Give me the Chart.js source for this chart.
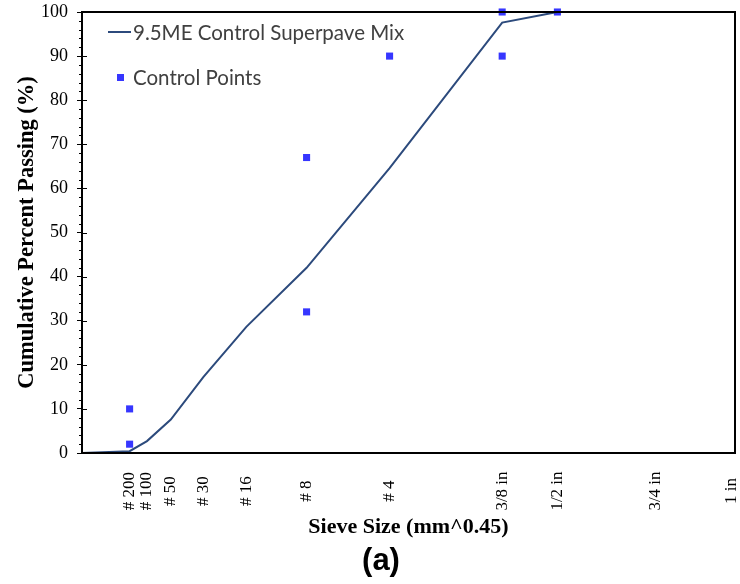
<!DOCTYPE html>
<html>
<head>
<meta charset="utf-8">
<script src="https://cdn.jsdelivr.net/npm/chart.js@4"></script>
<style>
  html, body { margin: 0; padding: 0; background: #fff; }
  #wrap { width: 740px; height: 584px; }
</style>
</head>
<body>
<div id="wrap"><canvas id="canva" width="740" height="584"></canvas></div>
<script>
// sieve sizes, x position = mm^0.45
var sieveLabels = ['# 200', '# 100', '# 50', '# 30', '# 16', '# 8', '# 4', '3/8 in', '1/2 in', '3/4 in', '1 in'];
var sieveX = [0.312, 0.426, 0.582, 0.795, 1.077, 1.472, 2.016, 2.754, 3.116, 3.762, 4.257];

// gradation curve
var mixX = [0, 0.312, 0.426, 0.582, 0.795, 1.077, 1.472, 2.016, 2.754, 3.116];
var mixY = [0, 0.4, 2.7, 7.6, 17.2, 28.6, 42, 64.6, 97.6, 100];

// control points
var ctrlX = [0.312, 0.312, 1.472, 1.472, 2.016, 2.754, 2.754, 3.116];
var ctrlY = [2, 10, 32, 67, 90, 90, 100, 100];

var yTicks = [0, 10, 20, 30, 40, 50, 60, 70, 80, 90, 100];

const ctx = document.getElementById('canva');

function pts(xs, ys) {
    var out = [];
    xs.forEach((x, i) => out.push({x: x, y: ys[i]}));
    return out;
}

// frame, minor ticks, sieve labels, legend, panel letter
var extras = {
    id: 'extras',
    afterDraw: function(chart) {
        var c = chart.ctx;
        var a = chart.chartArea;
        var ys = chart.scales.y;
        var xs = chart.scales.x;
        c.save();
        c.strokeStyle = '#000';
        c.lineWidth = 1;
        for (var v = 0; v <= 100; v += 2) {
            var py = Math.round(ys.getPixelForValue(v)) + 0.5;
            c.beginPath();
            if (v % 10 == 0) {
                c.moveTo(a.left, py); c.lineTo(a.left + 5, py);
            } else {
                c.moveTo(a.left - 3, py); c.lineTo(a.left, py);
            }
            c.stroke();
        }
        c.lineWidth = 2;
        c.strokeRect(a.left, a.top, a.right - a.left, a.bottom - a.top);

        // sieve labels, centred below the axis like the original
        c.fillStyle = '#000';
        c.font = '17px "Liberation Serif"';
        c.textAlign = 'center';
        c.textBaseline = 'middle';
        xs.ticks.forEach(function(t, i) {
            c.save();
            c.translate(xs.getPixelForValue(t.value), 491);
            c.rotate(-Math.PI / 2);
            c.fillText(sieveLabels[i], 0, 0);
            c.restore();
        });

        // legend
        var ds = chart.data.datasets;
        c.textAlign = 'left';
        c.font = '20.5px Lato';
        c.fillStyle = '#404040';
        c.strokeStyle = ds[0].borderColor;
        c.lineWidth = 2;
        c.beginPath();
        c.moveTo(108, 32); c.lineTo(131, 32);
        c.stroke();
        c.fillText(ds[0].label, 133, 33);
        c.fillStyle = ds[1].backgroundColor;
        c.fillRect(117, 74, 7, 7);
        c.fillStyle = '#404040';
        c.fillText(ds[1].label, 133, 78);

        c.fillStyle = '#000';
        c.textAlign = 'center';
        c.font = 'bold 31px "Liberation Sans"';
        c.fillText('(a)', 381, 561);
        c.restore();
    }
};

new Chart(ctx, {
    type: 'scatter',
    data: {
        datasets: [{
            label: '9.5ME Control Superpave Mix',
            data: pts(mixX, mixY),
            showLine: true,
            borderColor: '#2c4a7c',
            backgroundColor: '#2c4a7c',
            borderWidth: 2,
            pointRadius: 0,
            tension: 0,
            clip: false
        }, {
            label: 'Control Points',
            data: pts(ctrlX, ctrlY),
            showLine: false,
            pointStyle: 'rect',
            pointRadius: 5,
            borderWidth: 0,
            backgroundColor: '#3636ff',
            borderColor: '#3636ff',
            clip: false
        }]
    },
    options: {
        responsive: false,
        animation: false,
        layout: { padding: { top: 12, right: 2, left: 0, bottom: 0 } },
        plugins: {
            legend: { display: false },
            tooltip: { enabled: false }
        },
        scales: {
            x: {
                type: 'linear',
                min: 0,
                max: 4.28,
                afterBuildTicks: function(scale) {
                    scale.ticks = sieveX.map(v => ({value: v}));
                },
                afterFit: function(scale) {
                    scale.height = 131;
                    scale.paddingLeft = 0;
                    scale.paddingRight = 0;
                },
                grid: { display: false, drawTicks: false },
                border: { display: true, color: '#000', width: 2 },
                ticks: { display: false },
                title: {
                    display: true,
                    text: 'Sieve Size (mm^0.45)',
                    color: '#000',
                    font: { family: 'Liberation Serif', size: 22, weight: 'bold' },
                    padding: { top: 0, bottom: 43 }
                }
            },
            y: {
                min: 0,
                max: 100,
                afterBuildTicks: function(scale) {
                    scale.ticks = yTicks.map(v => ({value: v}));
                },
                afterFit: function(scale) {
                    scale.width = 82;
                    scale.paddingTop = 0;
                    scale.paddingBottom = 0;
                },
                grid: { drawOnChartArea: false, drawTicks: true, tickLength: 5, color: '#000' },
                border: { display: true, color: '#000', width: 2 },
                ticks: {
                    padding: 9,
                    color: '#000',
                    font: { family: 'Liberation Serif', size: 18 }
                },
                title: {
                    display: true,
                    text: 'Cumulative Percent Passing (%)',
                    color: '#000',
                    font: { family: 'Liberation Serif', size: 22.5, weight: 'bold' },
                    padding: { top: 14, bottom: 0 }
                }
            }
        }
    },
    plugins: [extras]
});
</script>
</body>
</html>
